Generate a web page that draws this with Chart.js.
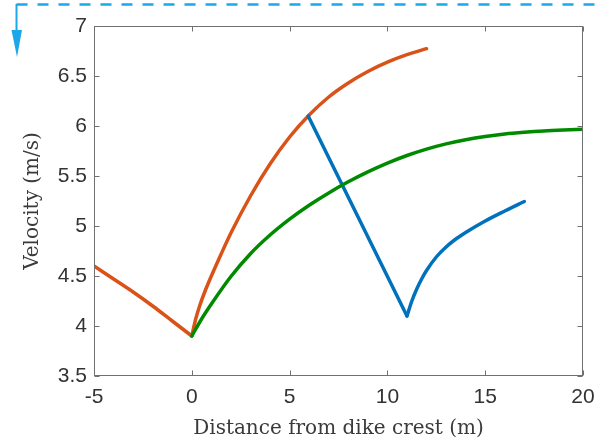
<!DOCTYPE html>
<html lang="en">
<head>
    <meta charset="UTF-8">
    <title>Velocity vs distance</title>
    <script src="https://cdn.jsdelivr.net/npm/chart.js@4"></script>
    <style>
        html, body { margin: 0; padding: 0; background: #fff; }
        .chart-box { width: 600px; height: 439px; }
    </style>
</head>
<body>
    <div class="chart-box">
        <canvas id="velChart" width="600" height="439"></canvas>
    </div>

    <script>
        // values
        var orangeLeftX = [-5, -4, -3, -2, -1, 0];
        var orangeLeftY = [4.6, 4.47, 4.34, 4.2, 4.05, 3.9];

        var orangeRightX = [0, 0.2, 0.4, 0.7, 1, 1.5, 2, 3, 4, 5, 6, 7, 8, 9, 10, 11, 12];
        var orangeRightY = [3.9, 4.07, 4.2, 4.36, 4.5, 4.72, 4.93, 5.3, 5.62, 5.89, 6.11, 6.29, 6.43, 6.545, 6.638, 6.713, 6.773];

        var greenX = [0, 0.5, 1, 2, 3, 4, 5, 6, 7, 8, 9, 10, 11, 12, 13, 14, 15, 16, 17, 18, 19, 20];
        var greenY = [3.9, 4.07, 4.22, 4.495, 4.723, 4.91, 5.069, 5.208, 5.331, 5.442, 5.541, 5.629, 5.705, 5.769, 5.821, 5.863, 5.896, 5.921, 5.938, 5.951, 5.96, 5.967];

        var blueLineX = [5.95, 11];
        var blueLineY = [6.1, 4.1];

        var blueCurveX = [11, 11.25, 11.5, 11.75, 12, 12.5, 13, 13.5, 14, 15, 16, 17];
        var blueCurveY = [4.1, 4.25, 4.37, 4.47, 4.555, 4.69, 4.79, 4.87, 4.935, 5.05, 5.15, 5.245];

        var xTicks = [-5, 0, 5, 10, 15, 20];
        var yTicks = [3.5, 4, 4.5, 5, 5.5, 6, 6.5, 7];

        var axisGray = '#707070';

        function pts(xs, ys) {
            var out = [];
            for (var i = 0; i < xs.length; i++) {
                out.push({ x: xs[i], y: ys[i] });
            }
            return out;
        }

        function line(xs, ys, color, order) {
            return {
                data: pts(xs, ys),
                borderColor: color,
                borderWidth: 3.5,
                pointRadius: 0,
                showLine: true,
                fill: false,
                cubicInterpolationMode: 'monotone',
                borderCapStyle: 'round',
                borderJoinStyle: 'round',
                order: order
            };
        }

        // box, inward ticks and the blue dashed marker at the top
        var frame = {
            id: 'frame',
            afterDraw: function (chart) {
                var ctx = chart.ctx;
                var a = chart.chartArea;
                var xs = chart.scales.x, ys = chart.scales.y;
                var L = Math.round(a.left) + 0.5, R = Math.round(a.right) - 0.5;
                var T = Math.round(a.top) + 0.5, B = Math.round(a.bottom) - 0.5;
                ctx.save();
                ctx.strokeStyle = axisGray;
                ctx.lineWidth = 1;
                ctx.strokeRect(L, T, R - L, B - T);
                ctx.beginPath();
                xTicks.forEach(function (v) {
                    var px = Math.round(xs.getPixelForValue(v)) + 0.5;
                    ctx.moveTo(px, B); ctx.lineTo(px, B - 5);
                    ctx.moveTo(px, T); ctx.lineTo(px, T + 5);
                });
                yTicks.forEach(function (v) {
                    var py = Math.round(ys.getPixelForValue(v)) + 0.5;
                    ctx.moveTo(L, py); ctx.lineTo(L + 5, py);
                    ctx.moveTo(R, py); ctx.lineTo(R - 5, py);
                });
                ctx.stroke();

                // marker
                ctx.strokeStyle = '#1ba8ea';
                ctx.fillStyle = '#1ba8ea';
                ctx.lineWidth = 2.5;
                ctx.setLineDash([11, 10]);
                ctx.beginPath();
                ctx.moveTo(16.5, 4.5);
                ctx.lineTo(600, 4.5);
                ctx.stroke();
                ctx.setLineDash([]);
                ctx.lineWidth = 2;
                ctx.beginPath();
                ctx.moveTo(16.5, 4);
                ctx.lineTo(16.5, 32);
                ctx.stroke();
                ctx.beginPath();
                ctx.moveTo(11.5, 30);
                ctx.lineTo(22, 30);
                ctx.lineTo(17, 57);
                ctx.closePath();
                ctx.fill();
                ctx.restore();
            }
        };

        var ctx = document.getElementById('velChart').getContext('2d');
        var chart = new Chart(ctx, {
            type: 'scatter',
            data: {
                datasets: [
                    line(orangeLeftX, orangeLeftY, '#D95319', 3),
                    line(orangeRightX, orangeRightY, '#D95319', 3),
                    line(blueLineX, blueLineY, '#0072BD', 2),
                    line(blueCurveX, blueCurveY, '#0072BD', 2),
                    line(greenX, greenY, '#008a00', 1)
                ]
            },
            options: {
                responsive: false,
                animation: false,
                layout: { padding: { left: 0, top: 26, right: 17, bottom: 0 } },
                plugins: {
                    legend: { display: false },
                    tooltip: { enabled: false }
                },
                scales: {
                    x: {
                        type: 'linear',
                        min: -5,
                        max: 20,
                        afterBuildTicks: function (s) {
                            s.ticks = xTicks.map(function (v) { return { value: v }; });
                        },
                        afterFit: function (s) {
                            s.height = 63;
                            s.paddingLeft = 0;
                            s.paddingRight = 0;
                        },
                        grid: { display: false, drawTicks: false },
                        border: { display: false },
                        ticks: {
                            padding: 9,
                            color: '#333',
                            font: { family: 'Liberation Sans', size: 21 },
                            maxRotation: 0,
                            callback: function (v) { return String(v); }
                        },
                        title: {
                            display: true,
                            text: 'Distance from dike crest (m)',
                            color: '#3a3a3a',
                            font: { family: 'DejaVu Serif', size: 20, lineHeight: 1 },
                            padding: { top: 0, bottom: 0 }
                        }
                    },
                    y: {
                        type: 'linear',
                        min: 3.5,
                        max: 7,
                        afterBuildTicks: function (s) {
                            s.ticks = yTicks.map(function (v) { return { value: v }; });
                        },
                        afterFit: function (s) {
                            s.width = 94;
                            s.paddingTop = 0;
                            s.paddingBottom = 0;
                        },
                        grid: { display: false, drawTicks: false },
                        border: { display: false },
                        ticks: {
                            padding: 7,
                            color: '#333',
                            font: { family: 'Liberation Sans', size: 21 },
                            callback: function (v) { return String(v); }
                        },
                        title: {
                            display: true,
                            text: 'Velocity (m/s)',
                            color: '#3a3a3a',
                            font: { family: 'DejaVu Serif', size: 20, lineHeight: 1.2 },
                            padding: { top: 21, bottom: 0 }
                        }
                    }
                }
            },
            plugins: [frame]
        });
    </script>
</body>
</html>
